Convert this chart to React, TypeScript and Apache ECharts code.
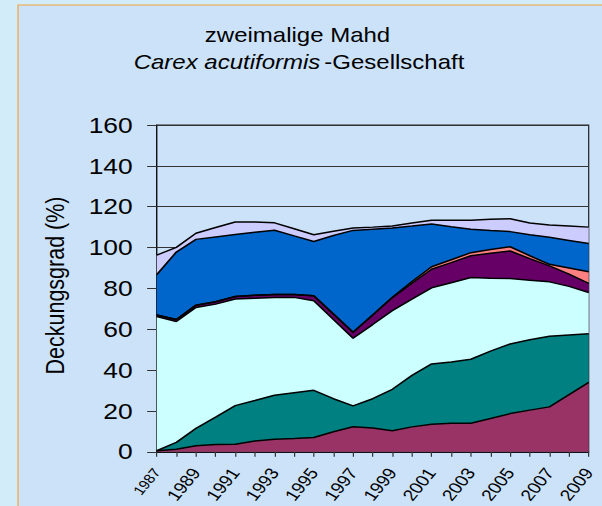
import React, { useEffect, useRef } from "react";
import * as echarts from "echarts";

const years = [
  "1987", "1988", "1989", "1990", "1991", "1992", "1993", "1994", "1995", "1996", "1997", "1998",
  "1999", "2000", "2001", "2002", "2003", "2004", "2005", "2006", "2007", "2008", "2009",
];
const yTicks = [0, 20, 40, 60, 80, 100, 120, 140, 160];

const sMaroon = [0.5, 1.2, 3, 3.6, 3.7, 5.3, 6.2, 6.5, 7, 9.8, 12.3, 11.6, 10.3, 12.2, 13.5, 14, 14, 16.3, 18.7, 20.4, 22, 28, 34];
const sTeal = [0, 3.4, 8.5, 13.4, 18.9, 19.8, 21.5, 22.4, 23.1, 16.2, 10.2, 14.4, 20.3, 25.2, 29.5, 30, 31.3, 33, 34.1, 34.5, 34.6, 29.2, 23.8];
const sCyan = [65.7, 59.2, 59.2, 55.3, 52.2, 50.1, 47.9, 46.7, 43.9, 38.8, 33.1, 36.3, 38.5, 37.3, 37.3, 38.8, 40, 35.7, 32, 29.1, 26.6, 23.8, 20.2];
const sPurple = [0.8, 1, 1.1, 1.2, 1.2, 1.4, 1.4, 1.4, 2.4, 2.7, 2.9, 4.7, 6.4, 7.8, 9.1, 9.8, 10.7, 12.2, 13.5, 10.6, 7.8, 6, 4.5];
const sSalmon = [0, 0, 0, 0, 0, 0, 0, 0, 0, 0, 0, 0, 0.2, 0.9, 1.2, 1.4, 1.5, 1.8, 2.1, 1.4, 0.8, 3, 5.7];
const sBlue = [19.7, 33, 32.2, 31.7, 30.4, 30.9, 31.5, 28.7, 26.6, 38.4, 49.9, 42, 33.9, 27.1, 20.9, 16.2, 11.5, 9.3, 7.4, 10.3, 13.2, 13.5, 13.8];
const sLavender = [9.6, 2.3, 3, 4.6, 6.1, 5, 3.6, 3.5, 3.3, 2.1, 1.2, 1, 0.9, 1.5, 1.9, 3.2, 4.4, 5.5, 6.3, 5.7, 6, 7, 8];

const layers = [
  { name: "maroon", data: sMaroon, color: "#993366" },
  { name: "teal", data: sTeal, color: "#008080" },
  { name: "cyan", data: sCyan, color: "#CCFFFF" },
  { name: "purple", data: sPurple, color: "#660066" },
  { name: "salmon", data: sSalmon, color: "#FF8080" },
  { name: "blue", data: sBlue, color: "#0066CC" },
  { name: "lavender", data: sLavender, color: "#CCCCFF" },
];

const SX = 1.2;
const W = 602 / SX;
const H = 506;
const FONT = "'Liberation Sans', Arial, sans-serif";

export default function App() {
  const ref = useRef<HTMLDivElement>(null);
  useEffect(() => {
    if (!ref.current) return;
    const chart = echarts.init(ref.current, null, { renderer: "svg" });
    const plotLeft = 156.7 / SX;
    const plotRight = 588.3 / SX;
    chart.setOption({
      animation: false,
      backgroundColor: "#d3ecf9",
      grid: {
        left: plotLeft,
        right: W - plotRight,
        top: 125,
        bottom: H - 453.5,
        show: true,
        borderColor: "#222",
        borderWidth: 1,
        backgroundColor: "transparent",
        containLabel: false,
      },
      graphic: [
        {
          type: "rect",
          z: -10,
          shape: { x: 15, y: 5, width: W + 20, height: H + 20 },
          style: { fill: "#cbe2f9", stroke: "#f2a33a", lineWidth: 1 },
        },
        {
          type: "text",
          z: 100,
          x: 297.5 / SX,
          y: 35,
          style: {
            text: "zweimalige Mahd",
            font: `20px ${FONT}`,
            fill: "#000",
            align: "center",
            verticalAlign: "middle",
          },
        },
        {
          type: "text",
          z: 100,
          x: 299 / SX,
          y: 62,
          style: {
            text: "{i|Carex acutiformis} {n|-Gesellschaft}",
            fill: "#000",
            align: "center",
            verticalAlign: "middle",
            rich: {
              i: { fontFamily: FONT, fontSize: 20, fontStyle: "italic", fill: "#000" },
              n: { fontFamily: FONT, fontSize: 20, fill: "#000" },
            },
          },
        },
        {
          type: "text",
          z: 100,
          x: 55 / SX,
          y: 285.5,
          rotation: Math.PI / 2,
          style: {
            text: "Deckungsgrad (%)",
            font: `21.5px ${FONT}`,
            fill: "#000",
            align: "center",
            verticalAlign: "middle",
          },
        },
      ],
      xAxis: {
        type: "category",
        data: years,
        boundaryGap: false,
        axisLine: { show: true, lineStyle: { color: "#111", width: 1 } },
        axisTick: { show: true, interval: 0, length: 5, lineStyle: { color: "#333" } },
        axisLabel: {
          interval: 1,
          rotate: 55,
          margin: 18,
          fontSize: 16,
          fontFamily: FONT,
          color: "#000",
          formatter: (v: string, idx: number) => (idx === 0 ? `{s|${v}}` : v),
          rich: { s: { fontSize: 13, fontFamily: FONT, color: "#000" } },
        },
        splitLine: { show: false },
      },
      yAxis: {
        type: "value",
        min: yTicks[0],
        max: yTicks[yTicks.length - 1],
        interval: 20,
        axisLine: { show: true, lineStyle: { color: "#111", width: 1 } },
        axisTick: { show: true, length: 8, lineStyle: { color: "#333" } },
        axisLabel: { fontSize: 22, fontFamily: FONT, color: "#000", margin: 20 },
        splitLine: { show: true, lineStyle: { color: "#333", width: 1 } },
      },
      series: layers.map((l) => ({
        name: l.name,
        type: "line",
        stack: "total",
        data: l.data,
        symbol: "none",
        smooth: false,
        lineStyle: { color: "#000", width: 1.5 },
        areaStyle: { color: l.color, opacity: 1 },
        itemStyle: { color: l.color },
      })),
    });
    return () => chart.dispose();
  }, []);
  return (
    <div
      style={{
        position: "fixed",
        left: 0,
        top: 0,
        width: 602,
        height: 506,
        overflow: "hidden",
        background: "#d3ecf9",
      }}
    >
      <div
        ref={ref}
        style={{
          width: W,
          height: H,
          transform: `scaleX(${SX})`,
          transformOrigin: "0 0",
        }}
      />
    </div>
  );
}
